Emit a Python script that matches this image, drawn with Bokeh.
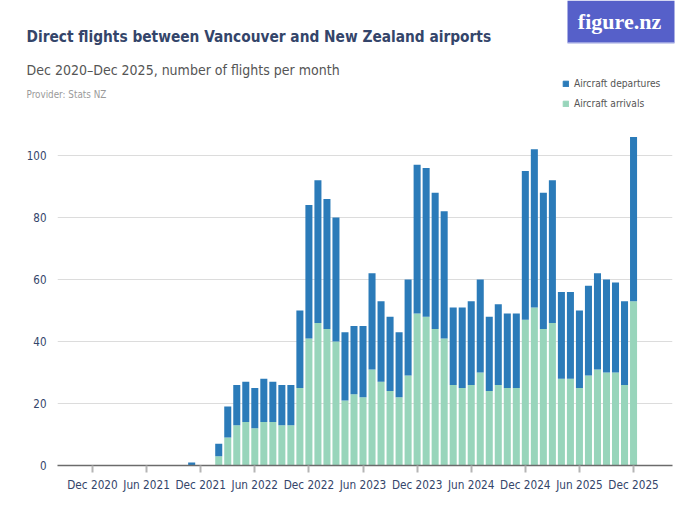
from bokeh.plotting import figure
from bokeh.models import (ColumnDataSource, Range1d, FixedTicker, Label, Legend, LegendItem,
                          BoxAnnotation)
from bokeh.layouts import column, row
from bokeh.embed import file_html
from bokeh.resources import INLINE

# ---- data (Dec 2020 .. Dec 2025, one value per month) ----
month_index = list(range(61))
arrivals = [0, 0, 0, 0, 0, 0, 0, 0, 0, 0, 0,   # Dec 2020 - Oct 2021
            0, 0, 0,                          # Nov 2021 - Jan 2022
            3, 9, 13, 14, 12, 14, 14, 13, 13, 25,   # Feb 2022 - Nov 2022
            41, 46, 44, 40, 21, 23, 22, 31, 27, 24, 22, 29,  # Dec 2022 - Nov 2023
            49, 48, 44, 41, 26, 25, 26, 30, 24, 26, 25, 25,  # Dec 2023 - Nov 2024
            47, 51, 44, 46, 28, 28, 25, 29, 31, 30, 30, 26,  # Dec 2024 - Nov 2025
            53]                                      # Dec 2025
departures = [0, 0, 0, 0, 0, 0, 0, 0, 0, 0, 0,
              1, 0, 0,
              4, 10, 13, 13, 13, 14, 13, 13, 13, 25,
              43, 46, 42, 40, 22, 22, 23, 31, 26, 24, 21, 31,
              48, 48, 44, 41, 25, 26, 27, 30, 24, 26, 24, 24,
              48, 51, 44, 46, 28, 28, 25, 29, 31, 30, 29, 27,
              53]
tick_positions = [0, 6, 12, 18, 24, 30, 36, 42, 48, 54, 60]
tick_labels = ["Dec 2020", "Jun 2021", "Dec 2021", "Jun 2022", "Dec 2022", "Jun 2023",
               "Dec 2023", "Jun 2024", "Dec 2024", "Jun 2025", "Dec 2025"]
y_ticks = [0, 20, 40, 60, 80, 100]
series_names = ["Aircraft departures", "Aircraft arrivals"]

TITLE = "Direct flights between Vancouver and New Zealand airports"
SUBTITLE = "Dec 2020\u2013Dec 2025, number of flights per month"
PROVIDER = "Provider: Stats NZ"

FONT = "DejaVu Sans Condensed"
DEP_COLOR = "#2b7bb9"
ARR_COLOR = "#98d5bb"
NAVY = "#34456a"

W = 684
HEADER_H = 115
MAIN_H = 394

# ---------------- header ----------------
header = figure(width=W, height=HEADER_H, output_backend="svg", toolbar_location=None,
                x_range=Range1d(0, W), y_range=Range1d(HEADER_H, 0),
                x_axis_type=None, y_axis_type=None,
                min_border=0, min_border_left=0, min_border_right=0,
                min_border_top=0, min_border_bottom=0)
header.outline_line_color = None
header.xgrid.grid_line_color = None
header.ygrid.grid_line_color = None

header.add_layout(Label(x=26, y=36.5, text=TITLE, text_font=FONT, text_font_size="15.3px",
                        text_font_style="bold", text_color=NAVY, text_baseline="middle"))
header.add_layout(Label(x=26, y=69, text=SUBTITLE, text_font=FONT, text_font_size="14px",
                        text_color="#555555", text_baseline="middle"))
header.add_layout(Label(x=26, y=94, text=PROVIDER, text_font=FONT, text_font_size="9.8px",
                        text_color="#9a9a9a", text_baseline="middle"))

# logo
header.add_layout(BoxAnnotation(left=567, right=674, top=0, bottom=42, fill_color="#5660c9",
                                fill_alpha=1, line_color=None))
header.add_layout(BoxAnnotation(left=567, right=674, top=41.5, bottom=43, fill_color="#9aa1e0",
                                fill_alpha=1, line_color=None))
header.add_layout(Label(x=619, y=21, text="figure.nz", text_font="Liberation Serif",
                        text_font_size="22px", text_font_style="bold", text_color="white",
                        text_align="center", text_baseline="middle"))

# legend: hidden proxy renderers (same data) carry the series colours
dep_proxy = header.vbar(x=month_index, top=departures, width=0.78, color=DEP_COLOR, visible=False)
arr_proxy = header.vbar(x=month_index, top=arrivals, width=0.78, color=ARR_COLOR, visible=False)
legend = Legend(items=[LegendItem(label=series_names[0], renderers=[dep_proxy]),
                       LegendItem(label=series_names[1], renderers=[arr_proxy])],
                location=(562, 4))
legend.glyph_width = 7
legend.glyph_height = 7
legend.label_height = 15
legend.label_standoff = 5
legend.spacing = 5
legend.padding = 0
legend.margin = 0
legend.border_line_color = None
legend.background_fill_alpha = 0
legend.inactive_fill_alpha = 0
legend.label_text_font = FONT
legend.label_text_font_size = "10.2px"
legend.label_text_color = "#555555"
header.add_layout(legend, "center")

# ---------------- main chart ----------------
source = ColumnDataSource(dict(x=month_index, arrivals=arrivals, departures=departures))

p = figure(width=W, height=MAIN_H, output_backend="svg", toolbar_location=None,
           x_range=Range1d(-3.88, 64.32), y_range=Range1d(0, 109.03),
           min_border_left=57, min_border_right=12, min_border_top=12, min_border_bottom=44)
p.outline_line_color = None

p.vbar_stack(["arrivals", "departures"], x="x", width=0.78, source=source,
             color=[ARR_COLOR, DEP_COLOR], line_color=None)

p.xaxis.ticker = FixedTicker(ticks=tick_positions)
p.xaxis.major_label_overrides = {t: l for t, l in zip(tick_positions, tick_labels)}
p.xaxis.axis_line_color = "#6b6b6b"
p.xaxis.axis_line_width = 1.5
p.xaxis.major_tick_line_color = "#b5b5b5"
p.xaxis.major_tick_line_width = 2
p.xaxis.major_tick_out = 7
p.xaxis.major_tick_in = 0
p.xaxis.minor_tick_line_color = None
p.xaxis.major_label_standoff = 5
p.xaxis.major_label_text_font = FONT
p.xaxis.major_label_text_font_size = "11.7px"
p.xaxis.major_label_text_color = NAVY

p.yaxis.ticker = FixedTicker(ticks=y_ticks)
p.yaxis.axis_line_color = None
p.yaxis.major_tick_line_color = None
p.yaxis.minor_tick_line_color = None
p.yaxis.major_label_standoff = 5
p.yaxis.major_label_text_font = FONT
p.yaxis.major_label_text_font_size = "11.5px"
p.yaxis.major_label_text_color = NAVY

p.xgrid.grid_line_color = None
p.ygrid.grid_line_color = "#dcdcdc"
p.ygrid.grid_line_width = 1

open("out.html", "w").write(file_html(column(row(header), p, spacing=0), INLINE))
